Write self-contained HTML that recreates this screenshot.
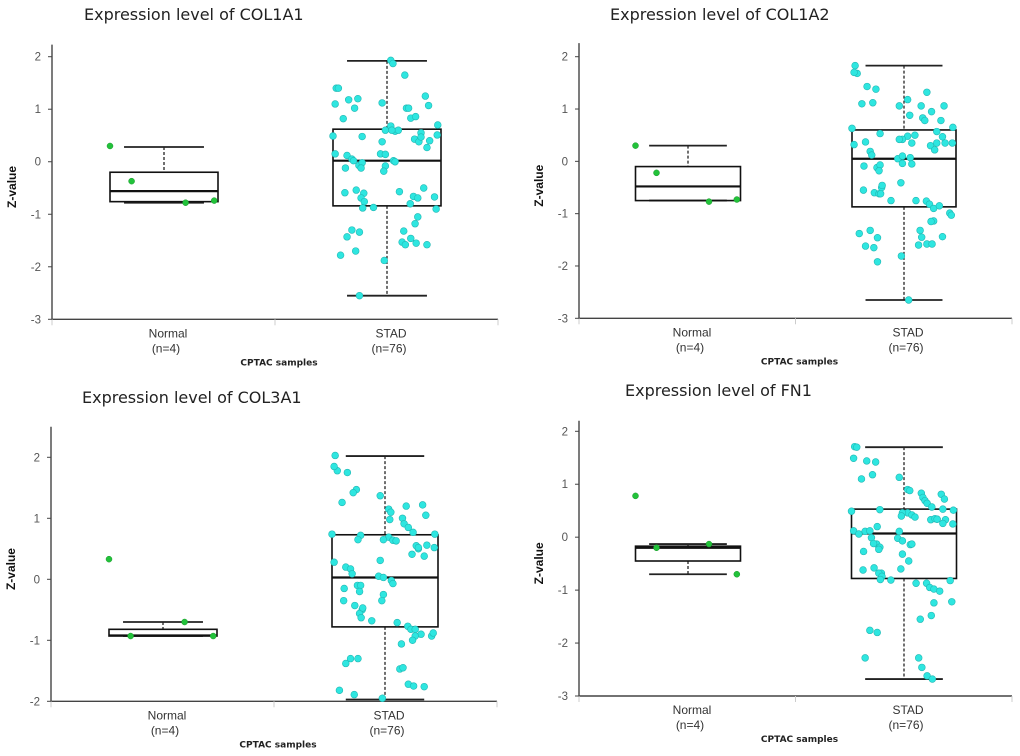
<!DOCTYPE html>
<html><head><meta charset="utf-8"><style>
body{margin:0;background:#fff;}
svg{display:block;font-family:"Liberation Sans",sans-serif;}
</style></head><body>
<svg id="c" width="1020" height="756"></svg>
<script>
const categories=["Normal","STAD"];
const counts=["(n=4)","(n=76)"];
const titles=["Expression level of COL1A1","Expression level of COL1A2","Expression level of COL3A1","Expression level of FN1"];
// box stats: [lowWhisker,q1,median,q3,highWhisker]
const normalBox=[[-0.78,-0.76,-0.56,-0.2,0.28],[-0.75,-0.75,-0.48,-0.1,0.3],[-0.93,-0.93,-0.92,-0.82,-0.7],[-0.7,-0.45,-0.2,-0.17,-0.13]];
const stadBox=[[-2.55,-0.84,0.02,0.62,1.92],[-2.65,-0.87,0.05,0.6,1.83],[-1.97,-0.78,0.03,0.73,2.02],[-2.68,-0.78,0.07,0.53,1.7]];
const normalPts=[[0.3,-0.37,-0.78,-0.74],[0.3,-0.22,-0.77,-0.73],[0.33,-0.93,-0.7,-0.93],[0.78,-0.2,-0.13,-0.7]];
const normalJit=[-1.0,-0.6,0.4,0.93];
const stad1=[1.4,1.4,1.1,1.18,1.2,1.02,0.82,1.12,1.93,1.87,1.65,1.25,1.07,1.02,1.02,0.83,0.86,0.7,0.49,0.48,0.68,0.6,0.58,0.6,0.55,0.43,0.38,0.47,0.4,0.51,0.27,0.38,0.15,0.12,0.05,0.02,0.15,0.14,0.02,0,-0.07,-0.02,-0.12,-0.12,-0.08,-0.18,-0.59,-0.54,-0.6,-0.69,-0.76,-0.88,-0.87,-0.57,-0.8,-0.66,-0.69,-0.5,-0.67,-0.9,-1.05,-1.18,-1.32,-1.3,-1.34,-1.43,-1.53,-1.58,-1.46,-1.55,-1.58,-1.78,-1.7,-1.88,-2.55,0.6];
const stad2=[1.83,1.68,1.7,1.43,1.38,1.12,1.1,1.06,1.18,0.88,1.06,0.78,1.06,0.83,0.78,1.32,0.95,0.65,0.63,0.53,0.48,0.42,0.35,0.5,0.57,0.3,0.22,0.35,0.35,0.35,0.47,0.42,0.32,0.37,0.19,0.12,0.05,0.1,0.07,-0.05,-0.12,-0.07,-0.18,-0.09,-0.04,-0.41,-0.55,-0.6,-0.5,-0.62,-0.46,-0.62,-0.75,-0.75,-0.76,-0.82,-0.9,-0.85,-0.99,-1.03,-1.14,-1.15,-1.32,-1.32,-1.46,-1.62,-1.6,-1.45,-1.58,-1.58,-1.44,-1.38,-1.65,-1.81,-1.92,-2.65];
const stad3=[2.03,1.78,1.85,1.75,1.47,1.42,1.26,1.37,1.15,1.1,1.0,1.22,1.05,0.91,1.2,0.85,0.77,0.74,0.74,0.72,0.69,0.65,0.64,0.63,0.5,0.41,0.55,0.52,0.56,0.52,0.38,0.31,0.28,0.2,0.17,0.09,0.05,0.03,-0.02,-0.07,-0.1,-0.1,-0.2,-0.15,-0.25,-0.35,-0.35,-0.43,-0.5,-0.56,-0.47,-0.63,-0.68,-0.71,-0.77,-0.82,-0.82,-0.9,-0.93,-0.88,-0.93,-1.0,-1.06,-1.3,-1.3,-1.38,-1.47,-1.45,-1.72,-1.75,-1.76,-1.82,-1.89,-1.95,0.65,0.98];
const stad4=[1.71,1.7,1.49,1.44,1.42,1.18,1.1,1.13,0.9,0.88,0.83,0.81,0.72,0.75,0.69,0.64,0.57,0.51,0.49,0.52,0.46,0.46,0.42,0.38,0.34,0.33,0.35,0.34,0.33,0.25,0.26,0.11,0.12,0.11,0.12,-0.01,-0.02,-0.07,-0.14,-0.13,-0.13,-0.19,-0.23,-0.27,-0.32,-0.6,-0.62,-0.58,-0.68,-0.68,-0.74,-0.8,-0.81,-0.87,-0.87,-0.95,-0.98,-1.02,-0.82,-1.22,-1.24,-1.48,-1.55,-1.76,-1.8,-2.28,-2.28,-2.46,-2.62,-2.68,0.53,0.06,-0.12,0.4,0.2,-0.45];
const stadJit=[-0.94,-0.9,-0.96,-0.71,-0.54,-0.6,-0.81,-0.09,0.07,0.11,0.33,0.71,0.77,0.36,0.4,0.44,0.53,0.94,-1.0,-0.46,0.07,-0.03,0.15,0.21,0.63,0.51,0.59,0.63,0.79,0.93,0.74,-0.09,-0.96,-0.74,-0.65,-0.62,-0.12,-0.03,0.12,0.15,-0.52,-0.46,-0.48,-0.77,-0.03,-0.06,-0.78,-0.57,-0.43,-0.48,-0.42,-0.45,-0.25,0.23,0.43,0.49,0.57,0.68,0.88,0.91,0.57,0.52,0.31,-0.65,-0.51,-0.74,0.28,0.34,0.44,0.54,0.74,-0.86,-0.58,-0.05,-0.51,0.09];
const stadAll=[stad1,stad2,stad3,stad4];
const yTicks=[[2,1,0,-1,-2,-3],[2,1,0,-1,-2,-3],[2,1,0,-1,-2],[2,1,0,-1,-2,-3]];
const yDomain=[[-3,2.23],[-3,2.26],[-2,2.5],[-3,2.2]];

const layout=[
 {ax:52,right:498,y0:319.3,y1:56.7,v1:2,v0:-3,nc:164,nw:108,sc:387,sw:108,tx:84,ty:20},
 {ax:579,right:1012,y0:318.3,y1:56.7,v1:2,v0:-3,nc:688,nw:105,sc:904,sw:104,tx:610,ty:20},
 {ax:51,right:497,y0:701.3,y1:457.3,v1:2,v0:-2,nc:163,nw:108,sc:385,sw:106,tx:82,ty:403},
 {ax:579,right:1012,y0:696,y1:431.3,v1:2,v0:-3,nc:688,nw:105,sc:904,sw:105,tx:625,ty:396}
];
const NS="http://www.w3.org/2000/svg";
const svg=document.getElementById('c');
function mk(tag,attrs,parent,text){const e=document.createElementNS(NS,tag);for(const k in attrs)e.setAttribute(k,attrs[k]);if(text!==undefined)e.textContent=text;parent.appendChild(e);return e;}

layout.forEach((L,i)=>{
 const g=mk('g',{},svg);
 
 
 const y=v=>L.y0+(v-L.v0)*(L.y1-L.y0)/(L.v1-L.v0);
 const t=mk('text',{x:L.tx,y:L.ty,'font-size':16,fill:'#222','font-family':'"DejaVu Sans",sans-serif'},g,titles[i]);
 
 
 const top=y(yDomain[i][1]);
 const ya=mk('line',{x1:L.ax,x2:L.ax,y1:top,y2:L.y0,stroke:'#444','stroke-width':1.4},g);
 
 
 const xa=mk('line',{x1:L.ax,x2:L.right,y1:L.y0,y2:L.y0,stroke:'#444','stroke-width':1.4},g);
 
 
 [L.ax,(L.ax+L.right)/2,L.right].forEach(xx=>mk('line',{x1:xx,x2:xx,y1:L.y0,y2:L.y0+6,stroke:'#ccc'},g));
 yTicks[i].forEach(v=>{
  mk('line',{x1:L.ax-4,x2:L.ax,y1:y(v),y2:y(v),stroke:'#444'},g);
  const tl=mk('text',{x:L.ax-11,y:y(v)+4,'font-size':11.5,fill:'#555','text-anchor':'end'},g,String(v));
  
  
 });
 const yl=mk('text',{x:0,y:0,'font-size':12,'font-weight':'bold',fill:'#111','text-anchor':'middle',transform:`translate(${L.ax-36},${(top+L.y0)/2+5}) rotate(-90)`},g,'Z-value');
 
 
 [[L.nc,L.nw,normalBox[i]],[L.sc,L.sw,stadBox[i]]].forEach(([cx,w,b],k)=>{
  const bg=mk('g',{},g);
  
  
  const ww=w*0.5;
  mk('line',{x1:cx,x2:cx,y1:y(b[4]),y2:y(b[3]),stroke:'#111','stroke-dasharray':'3,2','stroke-width':1.2},bg);
  mk('line',{x1:cx,x2:cx,y1:y(b[1]),y2:y(b[0]),stroke:'#111','stroke-dasharray':'3,2','stroke-width':1.2},bg);
  mk('line',{x1:cx-w*0.37,x2:cx+w*0.37,y1:y(b[4]),y2:y(b[4]),stroke:'#222','stroke-width':1.8},bg);
  mk('line',{x1:cx-w*0.37,x2:cx+w*0.37,y1:y(b[0]),y2:y(b[0]),stroke:'#222','stroke-width':1.8},bg);
  mk('rect',{x:cx-ww,y:y(b[3]),width:w,height:Math.max(1,y(b[1])-y(b[3])),fill:'none',stroke:'#111','stroke-width':1.6},bg);
  mk('line',{x1:cx-ww,x2:cx+ww,y1:y(b[2]),y2:y(b[2]),stroke:'#111','stroke-width':2.2},bg);
  const c1=mk('text',{x:cx+4,y:L.y0+18,'font-size':12,fill:'#333','text-anchor':'middle'},g,categories[k]);
  
  
  const c2=mk('text',{x:cx+2,y:L.y0+33,'font-size':12,fill:'#333','text-anchor':'middle'},g,counts[k]);
  
  
 });
 const xt=mk('text',{x:(L.ax+L.right)/2+4,y:L.y0+46,'font-size':9,'font-weight':'bold',fill:'#222','text-anchor':'middle','font-family':'"DejaVu Sans",sans-serif'},g,'CPTAC samples');
 
 
 normalPts[i].forEach((v,j)=>{
  const d=mk('circle',{cx:L.nc+normalJit[j]*L.nw*0.5,cy:y(v),r:3,fill:'#22c23a',stroke:'#1a9a2c','stroke-width':0.5},g);
  
  
 });
 stadAll[i].forEach((v,j)=>{
  const d=mk('circle',{cx:L.sc+stadJit[j]*L.sw*0.5,cy:y(v),r:3.4,fill:'#2ee6e0',stroke:'#22b8b4','stroke-width':0.6},g);
  
  
 });
});
</script>
</body></html>
